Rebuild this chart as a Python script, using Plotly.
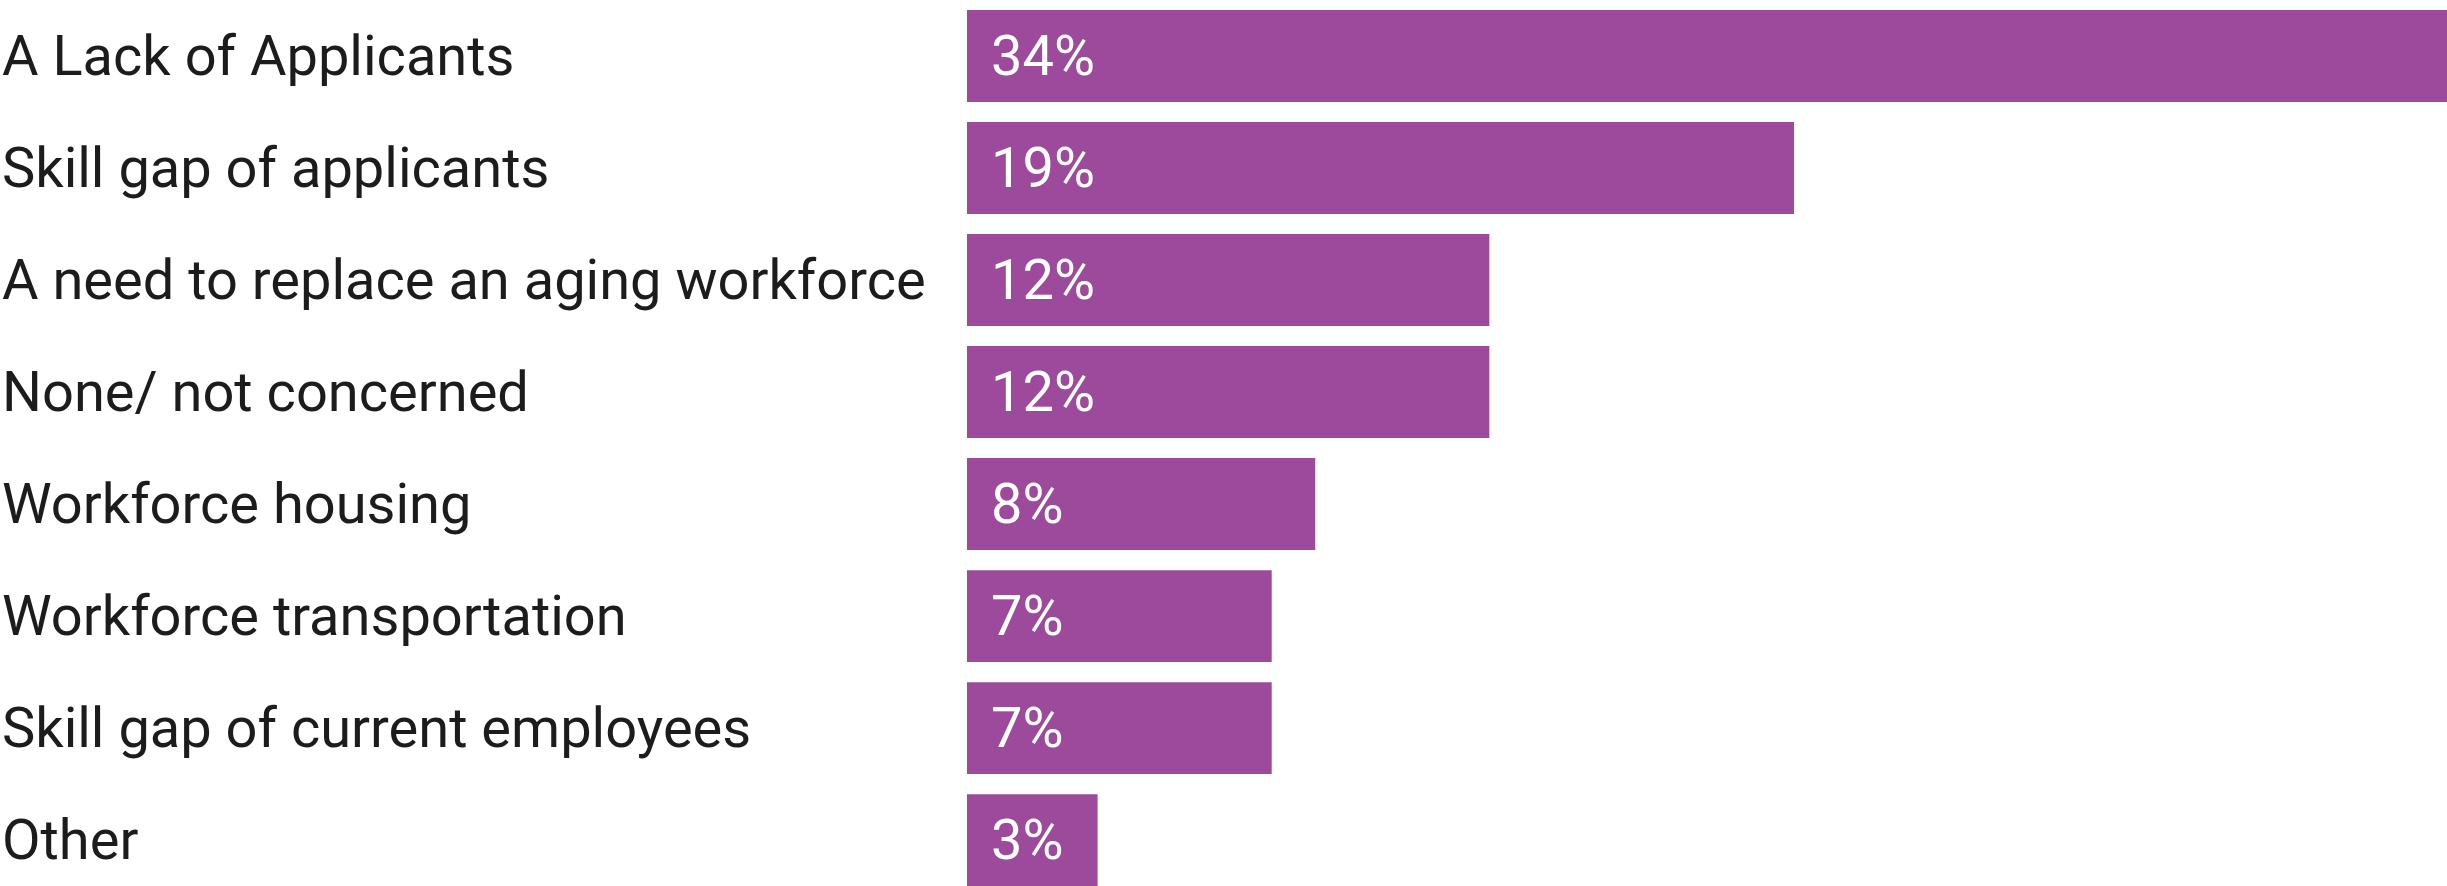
import plotly.graph_objects as go

# Survey responses: biggest workforce concern
categories = [
    "A Lack of Applicants",
    "Skill gap of applicants",
    "A need to replace an aging workforce",
    "None/ not concerned",
    "Workforce housing",
    "Workforce transportation",
    "Skill gap of current employees",
    "Other",
]
values = [34, 19, 12, 12, 8, 7, 7, 3]

BAR_COLOR = "#9D4A9D"
FONT = "Roboto"

fig = go.Figure(
    go.Bar(
        x=values,
        y=categories,
        orientation="h",
        marker=dict(color=BAR_COLOR, line=dict(width=0)),
        hoverinfo="skip",
    )
)

annotations = []
for cat, val in zip(categories, values):
    # category name, left aligned at the page edge
    annotations.append(dict(
        x=0, xref="paper", y=cat, yref="y",
        text=cat, showarrow=False, xanchor="left", yanchor="middle",
        font=dict(family=FONT, size=56, color="#1c1c1c"),
    ))
    # value label inside the bar
    annotations.append(dict(
        x=0, xref="x", y=cat, yref="y", xshift=22,
        text=f"{val}%", showarrow=False, xanchor="left", yanchor="middle",
        font=dict(family=FONT, size=56, color="white"),
    ))

fig.update_layout(
    width=2447,
    height=886,
    margin=dict(l=0, r=0, t=0, b=0),
    paper_bgcolor="white",
    plot_bgcolor="white",
    bargap=0.18,
    showlegend=False,
    annotations=annotations,
    xaxis=dict(
        domain=[967 / 2447, 1],
        range=[0, 34],
        visible=False,
        fixedrange=True,
    ),
    yaxis=dict(
        type="category",
        categoryorder="array",
        categoryarray=categories,
        range=[7.41, -0.5],
        visible=False,
        fixedrange=True,
    ),
)

fig.write_html("out.html")
